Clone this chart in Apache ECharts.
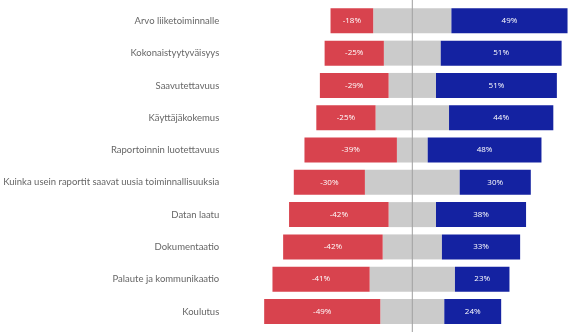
<!DOCTYPE html>
<html>
<head>
<meta charset="utf-8">
<style>
  html, body { margin: 0; padding: 0; background: #ffffff; }
  #chart { width: 576px; height: 332px; }
</style>
<script src="https://cdn.jsdelivr.net/npm/echarts@6/dist/echarts.min.js"></script>
</head>
<body>
<div id="chart"></div>
<script>
// Survey themes, top to bottom
const categories = [
  'Arvo liiketoiminnalle',
  'Kokonaistyytyväisyys',
  'Saavutettavuus',
  'Käyttäjäkokemus',
  'Raportoinnin luotettavuus',
  'Kuinka usein raportit saavat uusia toiminnallisuuksia',
  'Datan laatu',
  'Dokumentaatio',
  'Palaute ja kommunikaatio',
  'Koulutus'
];
// Share of negative answers (%)
const negative = [18, 25, 29, 25, 39, 30, 42, 42, 41, 49];
// Share of neutral answers (%)
const neutral = [33, 24, 20, 31, 13, 40, 20, 25, 36, 27];
// Share of positive answers (%)
const positive = [49, 51, 51, 44, 48, 30, 38, 33, 23, 24];

const RED = '#d8434e';
const BLUE = '#1422a1';
const GREY = '#cbcbcb';

// Category axis runs top-down, so reverse the data order
const cats = categories.slice().reverse();
const neg = negative.slice().reverse();
const neu = neutral.slice().reverse();
const pos = positive.slice().reverse();

// Neutral share is split evenly around zero
const neuLeft = neu.map(v => -v / 2);
const neuRight = neu.map(v => v / 2);

const chart = echarts.init(document.getElementById('chart'));

const barLabel = (fmt) => ({
  show: true,
  position: 'inside',
  color: '#ffffff',
  fontSize: 8,
  fontFamily: 'Open Sans, sans-serif',
  formatter: fmt
});

chart.setOption({
  animation: false,
  grid: {
    left: 258.25, right: 2.54, top: 4.7, bottom: 4.35,
    containLabel: false,
    outerBoundsMode: 'none'
  },
  xAxis: {
    type: 'value',
    min: -65,
    max: 68,
    show: false
  },
  yAxis: {
    type: 'category',
    data: cats,
    axisLine: { show: false },
    axisTick: { show: false },
    axisLabel: {
      margin: 39,
      color: '#666666',
      fontSize: 9.5,
      fontFamily: 'Lato, sans-serif'
    }
  },
  series: [
    {
      name: 'neutral-left', type: 'bar', stack: 'total', barWidth: 25,
      data: neuLeft, itemStyle: { color: GREY }, silent: true
    },
    {
      name: 'neutral-right', type: 'bar', stack: 'total', barWidth: 25,
      data: neuRight, itemStyle: { color: GREY }, silent: true
    },
    {
      name: 'negative', type: 'bar', stack: 'total', barWidth: 25,
      data: neg.map(v => -v),
      itemStyle: { color: RED },
      label: barLabel(p => p.value + '%')
    },
    {
      name: 'positive', type: 'bar', stack: 'total', barWidth: 25,
      data: pos,
      itemStyle: { color: BLUE },
      label: barLabel(p => p.value + '%')
    }
  ]
});

// Vertical reference line at zero, across the full height
const zeroX = chart.convertToPixel({ xAxisIndex: 0 }, 0);
chart.setOption({
  graphic: [{
    type: 'line',
    z: 100,
    shape: { x1: zeroX, y1: 0, x2: zeroX, y2: 332 },
    style: { stroke: '#9e9e9e', lineWidth: 1 }
  }]
});
</script>
</body>
</html>
